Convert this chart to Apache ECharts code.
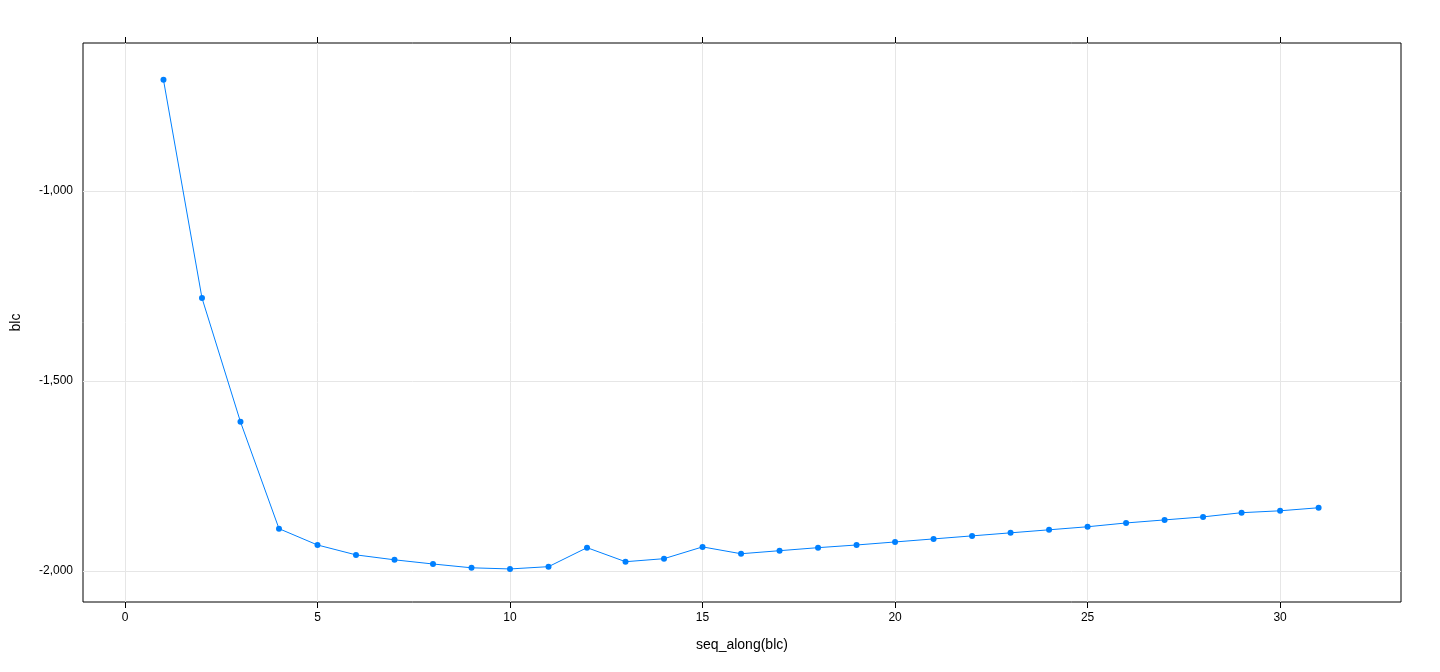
<!DOCTYPE html>
<html><head><meta charset="utf-8">
<script src="https://cdn.jsdelivr.net/npm/echarts@6/dist/echarts.min.js"></script>
<style>html,body{margin:0;background:#fff}#chart1{width:1440px;height:672px}</style>
</head><body><div id="chart1"></div>
<script>
var xValues = [1,2,3,4,5,6,7,8,9,10,11,12,13,14,15,16,17,18,19,20,21,22,23,24,25,26,27,28,29,30,31];
var blcValues = [-708,-1282,-1608,-1889,-1932,-1958,-1971,-1982,-1992,-1995,-1989,-1939,-1976,-1968,-1937,-1955,-1947,-1939,-1932,-1924,-1916,-1908,-1900,-1892,-1884,-1874,-1866,-1858,-1847,-1842,-1834];
var xTicks = [0,5,10,15,20,25,30];
var yTicks = [-2000,-1500,-1000];

var font = 'Liberation Sans, Arial, sans-serif';
function xAxisDef(pos, labels) {
	return {
		type: 'value', position: pos, min: -1.09, max: 33.14,
		axisLine: {show: false},
		axisTick: {show: true, inside: false, length: 6, customValues: xTicks, lineStyle: {color: '#000'}},
		axisLabel: {show: labels, customValues: xTicks, color: '#000', fontFamily: font, fontSize: 12, margin: 10},
		splitLine: {show: false}
	};
}
function yAxisDef(pos, labels) {
	return {
		type: 'value', position: pos, min: -2082, max: -611,
		axisLine: {show: false},
		axisTick: {show: true, inside: false, length: 6, customValues: yTicks, lineStyle: {color: '#000'}},
		axisLabel: {show: labels, customValues: yTicks, color: '#000', fontFamily: font, fontSize: 12, margin: 10},
		splitLine: {show: false}
	};
}
var xb = xAxisDef('bottom', true);
xb.name = 'seq_along(blc)'; xb.nameLocation = 'middle'; xb.nameGap = 36;
xb.nameTextStyle = {color: '#000', fontFamily: font, fontSize: 14};
var yl = yAxisDef('left', true);
yl.name = 'blc'; yl.nameLocation = 'middle'; yl.nameGap = 60;
yl.nameTextStyle = {color: '#000', fontFamily: font, fontSize: 14};

var grid = [];
var gridLines = [];
xTicks.forEach(function (v) { gridLines.push({xAxis: v}); });
yTicks.forEach(function (v) { gridLines.push({yAxis: v}); });

var option = {
	animation: false,
	grid: {left: 83, right: 39, top: 43, bottom: 70, show: true, borderColor: '#000', borderWidth: 1},
	xAxis: [xb, xAxisDef('top', false)],
	yAxis: [yl, yAxisDef('right', false)],
	series: [{
		type: 'line',
		data: xValues.map(function (x, i) { return [x, blcValues[i]]; }),
		symbol: 'circle', symbolSize: 6,
		itemStyle: {color: '#0080ff'},
		lineStyle: {color: '#0080ff', width: 1},
		markLine: {
			silent: true, symbol: 'none', label: {show: false},
			lineStyle: {color: '#e6e6e6', type: 'solid', width: 1},
			data: gridLines, z: 1
		}
	}]
};
var chart1 = echarts.init(document.getElementById('chart1'));
chart1.setOption(option);
</script></body></html>
